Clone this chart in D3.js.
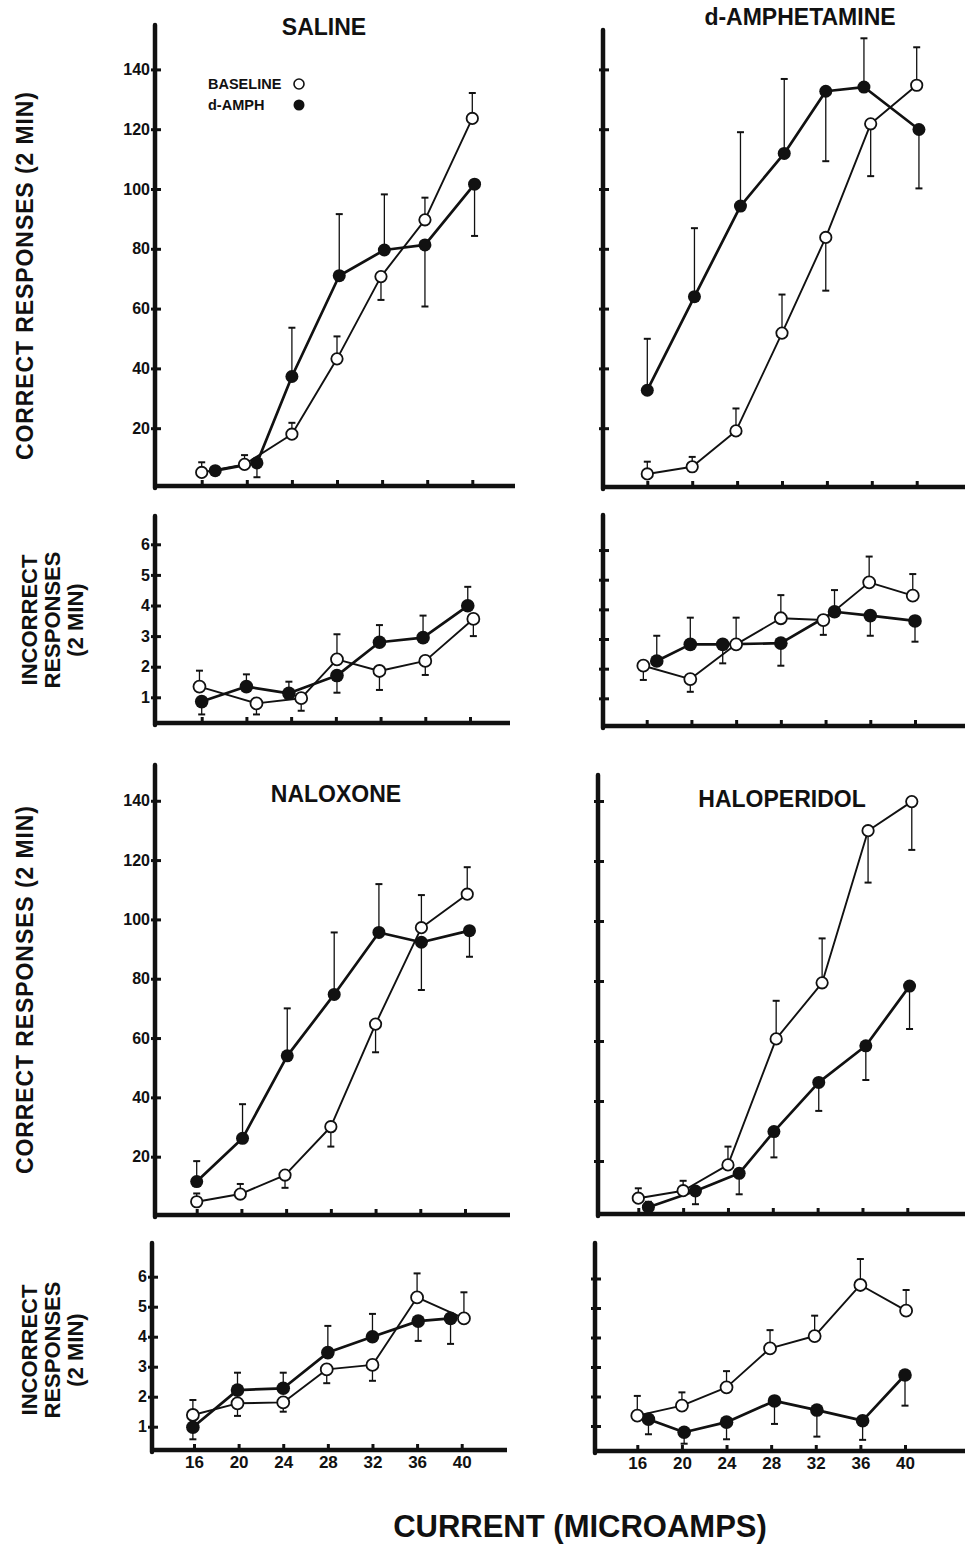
<!DOCTYPE html>
<meta charset="utf-8">
<head>
<title>Correct and incorrect responses vs current</title>
<script src="https://cdn.jsdelivr.net/npm/d3@7/dist/d3.min.js"></script>
<style>
body { margin:0; background:#fff; }
text { font-family:"Liberation Sans", Arial, sans-serif; font-weight:bold; fill:#111; }
</style>
</head>
<body>
<svg id=fig width=965 height=1553></svg>

<script>
//----data (currents in microamps)----
var currents=[16,20,24,28,32,36,40]
var correctTicks=[20,40,60,80,100,120,140]
var incorrectTicks=[1,2,3,4,5,6]
var drugTitles=["SALINE","d-AMPHETAMINE","NALOXONE","HALOPERIDOL"]
var legendLabels=["BASELINE","d-AMPH"]

// saline, correct
var salCorBaseX=[16,19.8,24,28,31.9,35.8,40]
var salCorBase=[5.2,7.9,18,43.2,70.7,89.7,123.6]
var salCorBaseErr=[8.6,11,21.8,50.7,62.9,97.1,132.1]
var salCorDrugX=[17.2,20.9,24,28.2,32.2,35.8,40.2]
var salCorDrug=[5.8,8.4,37.3,71,79.6,81.3,101.6]
var salCorDrugErr=[null,3.6,53.6,91.6,98.2,60.7,84.3]

// d-amphetamine, correct
var ampCorBaseX=[16,20,23.9,28,31.9,35.9,40]
var ampCorBase=[4.7,7.1,19.1,51.8,83.8,121.8,134.7]
var ampCorBaseErr=[8.8,10.4,26.6,64.7,66,104.3,147.4]
var ampCorDrugX=[16,20.2,24.3,28.2,31.9,35.3,40.2]
var ampCorDrug=[32.7,64,94.3,111.9,132.7,134.1,119.9]
var ampCorDrugErr=[49.9,86.9,119,136.8,109.3,150.4,100.2]

// saline, incorrect
var salIncBaseX=[15.8,20.9,24.9,28.1,31.9,36,40.3]
var salIncBase=[1.35,0.8,0.97,2.24,1.86,2.19,3.56]
var salIncBaseErr=[1.87,0.44,0.56,3.06,1.24,1.73,3.0]
var salIncDrugX=[16,20,23.8,28.1,31.9,35.8,39.8]
var salIncDrug=[0.86,1.35,1.13,1.71,2.8,2.95,3.99]
var salIncDrugErr=[0.44,1.75,1.51,1.15,3.36,3.67,4.61]

// d-amphetamine, incorrect
var ampIncBaseX=[15.7,19.9,24,28,31.8,35.9,39.8]
var ampIncBase=[2.1,1.65,2.82,3.7,3.64,4.91,4.46]
var ampIncBaseErr=[1.62,1.22,3.72,4.48,3.14,5.78,5.19]
var ampIncDrugX=[16.9,19.9,22.8,28,32.8,36,40]
var ampIncDrug=[2.26,2.82,2.82,2.86,3.92,3.79,3.61]
var ampIncDrugErr=[3.11,3.72,2.18,2.1,4.65,3.11,2.91]

// naloxone, correct
var nalCorBaseX=[16,19.9,23.9,28,32,36.1,40.2]
var nalCorBase=[4.8,7.4,13.8,30.1,64.7,97.2,108.5]
var nalCorBaseErr=[7.6,10.8,9.5,23.4,55.2,108.2,117.6]
var nalCorDrugX=[16,20.1,24.1,28.3,32.3,36.1,40.4]
var nalCorDrug=[11.6,26.2,54,74.7,95.6,92.3,96.2]
var nalCorDrugErr=[18.5,37.7,70,95.6,111.9,76.2,87.4]

// haloperidol, correct
var halCorBaseX=[16,20,24,28.3,32.4,36.5,40.4]
var halCorBase=[7.6,10.1,18.7,60.7,79.4,130.1,139.8]
var halCorBaseErr=[10.9,13.4,24.8,73.4,94.2,112.8,123.7]
var halCorDrugX=[16.9,21.1,25,28.1,32.1,36.3,40.2]
var halCorDrug=[4.6,10,15.9,29.8,46.2,58.4,78.3]
var halCorDrugErr=[6.4,5.6,8.9,21.2,36.7,47,64]

// naloxone, incorrect
var nalIncBaseX=[15.9,19.9,24,27.9,32,36,40.2]
var nalIncBase=[1.39,1.78,1.81,2.91,3.06,5.31,4.61]
var nalIncBaseErr=[1.89,1.36,1.5,2.45,2.53,6.11,5.48]
var nalIncDrugX=[15.9,19.9,24,28,32,36.1,39]
var nalIncDrug=[0.98,2.22,2.28,3.47,4.0,4.52,4.61]
var nalIncDrugErr=[0.58,2.8,2.8,4.36,4.76,3.86,3.76]

// haloperidol, incorrect
var halIncBaseX=[16,20,24,27.9,31.9,36,40.1]
var halIncBase=[1.35,1.69,2.31,3.63,4.05,5.78,4.91]
var halIncBaseErr=[2.02,2.14,2.86,4.25,4.74,6.66,5.61]
var halIncDrugX=[17,20.2,24,28.3,32.1,36.2,40]
var halIncDrug=[1.23,0.79,1.13,1.85,1.54,1.18,2.73]
var halIncDrugErr=[0.72,0.4,0.55,1.07,0.64,0.53,1.69]

//----panel geometry (pixels)----
var panels=[
 {ax:155,ay:486,top:25,right:515,x16:201.7,x40:472.3,y0:488,k:2.99,max:140,ticks:correctTicks,yLab:true,xLab:false,r:6.5,
  s:[salCorBaseX,salCorBase,salCorBaseErr,salCorDrugX,salCorDrug,salCorDrugErr]},
 {ax:603,ay:487,top:30,right:965,x16:647.3,x40:916.7,y0:488,k:2.99,max:140,ticks:correctTicks,yLab:false,xLab:false,r:6.5,
  s:[ampCorBaseX,ampCorBase,ampCorBaseErr,ampCorDrugX,ampCorDrug,ampCorDrugErr]},
 {ax:155,ay:723,top:516,right:510,x16:201.7,x40:470,y0:727.9,k:30.6,max:6,ticks:incorrectTicks,yLab:true,xLab:false,r:6.8,
  s:[salIncBaseX,salIncBase,salIncBaseErr,salIncDrugX,salIncDrug,salIncDrugErr]},
 {ax:603,ay:726,top:515,right:965,x16:646.7,x40:915,y0:728,k:29.66,max:6,ticks:incorrectTicks,yLab:false,xLab:false,r:6.8,
  s:[ampIncBaseX,ampIncBase,ampIncBaseErr,ampIncDrugX,ampIncDrug,ampIncDrugErr]},
 {ax:155,ay:1215,top:765,right:510,x16:196.7,x40:465,y0:1216,k:2.966,max:140,ticks:correctTicks,yLab:true,xLab:false,r:6.5,
  s:[nalCorBaseX,nalCorBase,nalCorBaseErr,nalCorDrugX,nalCorDrug,nalCorDrugErr]},
 {ax:598,ay:1214,top:775,right:965,x16:638.3,x40:907.3,y0:1221,k:3.0,max:140,ticks:correctTicks,yLab:false,xLab:false,r:6.5,
  s:[halCorBaseX,halCorBase,halCorBaseErr,halCorDrugX,halCorDrug,halCorDrugErr]},
 {ax:152,ay:1450,top:1243,right:507,x16:194,x40:461.7,y0:1456.7,k:30,max:6,ticks:incorrectTicks,yLab:true,xLab:true,r:6.8,
  s:[nalIncBaseX,nalIncBase,nalIncBaseErr,nalIncDrugX,nalIncDrug,nalIncDrugErr]},
 {ax:595,ay:1451,top:1243,right:965,x16:637.3,x40:905,y0:1455.5,k:29.5,max:6,ticks:incorrectTicks,yLab:false,xLab:true,r:6.8,
  s:[halIncBaseX,halIncBase,halIncBaseErr,halIncDrugX,halIncDrug,halIncDrugErr]}
]

var ink="#111"
var svg=d3.select("#fig")

function drawPanel(p)
{
    var g=svg.append("g")
    var x=d3.scaleLinear().domain([16,40]).range([p.x16,p.x40])
    var y=d3.scaleLinear().domain([0,p.max]).range([p.y0,p.y0-p.max*p.k])

    //---axis lines---
    g.append("line")
     .attr("x1",p.ax).attr("y1",p.top).attr("x2",p.ax).attr("y2",p.ay+2)
     .attr("stroke",ink).attr("stroke-width",4.5).attr("stroke-linecap","round")
    g.append("line")
     .attr("x1",p.ax-2).attr("y1",p.ay).attr("x2",p.right).attr("y2",p.ay)
     .attr("stroke",ink).attr("stroke-width",4.5)

    //---y ticks---
    var yAx=g.append("g").attr("transform","translate("+p.ax+",0)")
     .call(d3.axisLeft(y).tickValues(p.ticks).tickSize(-6).tickPadding(6)
       .tickFormat(p.yLab ? d3.format("d") : ""))
    yAx.select(".domain").remove()
    yAx.selectAll(".tick line").attr("x1",-4).attr("x2",6).attr("stroke",ink).attr("stroke-width",3)
    yAx.selectAll(".tick text").attr("x",-5).style("font-size","16px").attr("fill",ink)
    yAx.attr("font-family",null).attr("font-size",null)

    //---x ticks---
    var xAx=g.append("g").attr("transform","translate(0,"+p.ay+")")
     .call(d3.axisBottom(x).tickValues(currents).tickSize(-6).tickPadding(6)
       .tickFormat(p.xLab ? d3.format("d") : ""))
    xAx.select(".domain").remove()
    xAx.selectAll(".tick line").attr("stroke",ink).attr("stroke-width",3)
    xAx.selectAll(".tick text").style("font-size","17px").attr("fill",ink)
    xAx.attr("font-family",null).attr("font-size",null)

    var base=p.s[0].map(function(v,i){return {x:v,v:p.s[1][i],e:p.s[2][i]}})
    var drug=p.s[3].map(function(v,i){return {x:v,v:p.s[4][i],e:p.s[5][i]}})

    var line=d3.line().x(function(d){return x(d.x)}).y(function(d){return y(d.v)})

    g.append("path").attr("d",line(base)).attr("fill","none")
     .attr("stroke",ink).attr("stroke-width",1.9).attr("stroke-linejoin","round")
    g.append("path").attr("d",line(drug)).attr("fill","none")
     .attr("stroke",ink).attr("stroke-width",2.7).attr("stroke-linejoin","round")

    //---error bars---
    ;[base,drug].forEach(function(ser){
      ser.filter(function(d){return d.e!=null}).forEach(function(d){
        g.append("line")
         .attr("x1",x(d.x)).attr("x2",x(d.x)).attr("y1",y(d.v)).attr("y2",y(d.e))
         .attr("stroke",ink).attr("stroke-width",1.3)
        g.append("line")
         .attr("x1",x(d.x)-3.5).attr("x2",x(d.x)+3.5).attr("y1",y(d.e)).attr("y2",y(d.e))
         .attr("stroke",ink).attr("stroke-width",2)
      })
    })

    //---markers---
    g.selectAll(".drugPt").data(drug).enter().append("circle")
     .attr("cx",function(d){return x(d.x)}).attr("cy",function(d){return y(d.v)})
     .attr("r",p.r).attr("fill",ink)
    g.selectAll(".basePt").data(base).enter().append("circle")
     .attr("cx",function(d){return x(d.x)}).attr("cy",function(d){return y(d.v)})
     .attr("r",p.r-0.8).attr("fill","#fff").attr("stroke",ink).attr("stroke-width",1.8)
}

panels.forEach(drawPanel)

//----titles----
var titlePos=[[324,35],[800,25],[336,802],[782,807]]
drugTitles.forEach(function(t,i){
  svg.append("text").text(t).attr("x",titlePos[i][0]).attr("y",titlePos[i][1])
   .attr("text-anchor","middle").style("font-size","23px")
})

//----legend----
svg.append("text").text(legendLabels[0]).attr("x",208).attr("y",89).style("font-size","14.5px")
svg.append("circle").attr("cx",299).attr("cy",84).attr("r",5)
 .attr("fill","#fff").attr("stroke",ink).attr("stroke-width",1.6)
svg.append("text").text(legendLabels[1]).attr("x",208).attr("y",110).style("font-size","14.5px")
svg.append("circle").attr("cx",299).attr("cy",105).attr("r",5.5).attr("fill",ink)

//----axis titles----
;[276,990].forEach(function(cy){
  svg.append("text").text("CORRECT RESPONSES  (2 MIN)")
   .attr("transform","translate(33,"+cy+") rotate(-90)")
   .attr("text-anchor","middle").style("font-size","23px")
   .attr("textLength",368).attr("lengthAdjust","spacing")
})
;[620,1350].forEach(function(cy){
  ["INCORRECT","RESPONSES","(2 MIN)"].forEach(function(t,i){
    svg.append("text").text(t)
     .attr("transform","translate("+(37+23*i)+","+cy+") rotate(-90)")
     .attr("text-anchor","middle").style("font-size","22px")
  })
})

svg.append("text").text("CURRENT (MICROAMPS)")
 .attr("x",580).attr("y",1537).attr("text-anchor","middle").style("font-size","31px")
</script>
</body>
